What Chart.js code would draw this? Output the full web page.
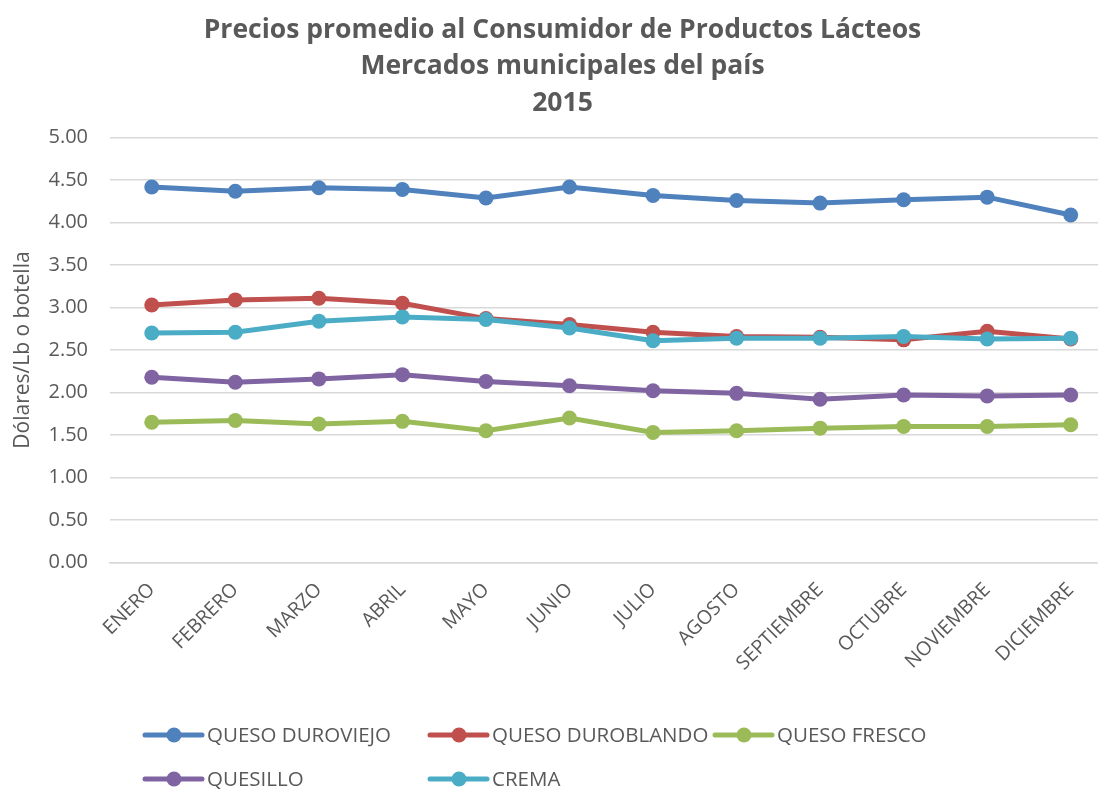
<!DOCTYPE html>
<html>
<head>
<meta charset="utf-8">
<script src="https://cdn.jsdelivr.net/npm/chart.js@4.4.1/dist/chart.umd.min.js"></script>
<style>
  html, body { margin: 0; padding: 0; background: #fff; overflow: hidden; }
  canvas { display: block; }
</style>
</head>
<body>
<canvas id="chart" width="1120" height="791"></canvas>
<script>
// meses
var meses = ["ENERO", "FEBRERO", "MARZO", "ABRIL", "MAYO", "JUNIO",
  "JULIO", "AGOSTO", "SEPTIEMBRE", "OCTUBRE", "NOVIEMBRE", "DICIEMBRE"];

// precios por producto (US$)
var duroviejo  = [4.42, 4.37, 4.41, 4.39, 4.29, 4.42, 4.32, 4.26, 4.23, 4.27, 4.30, 4.09];
var duroblando = [3.03, 3.09, 3.11, 3.05, 2.87, 2.80, 2.71, 2.66, 2.65, 2.62, 2.72, 2.63];
var fresco     = [1.65, 1.67, 1.63, 1.66, 1.55, 1.70, 1.53, 1.55, 1.58, 1.60, 1.60, 1.62];
var quesillo   = [2.18, 2.12, 2.16, 2.21, 2.13, 2.08, 2.02, 1.99, 1.92, 1.97, 1.96, 1.97];
var crema      = [2.70, 2.71, 2.84, 2.89, 2.86, 2.76, 2.61, 2.64, 2.64, 2.66, 2.63, 2.64];

var gris = "#595959";
var fuente = "'Open Sans', 'Liberation Sans', sans-serif";

function serie(label, data, color, orden) {
  return {
    label: label,
    data: data,
    borderColor: color,
    backgroundColor: color,
    borderWidth: 5,
    pointRadius: 7.5,
    pointHoverRadius: 7.5,
    pointBorderWidth: 0,
    tension: 0,
    order: orden
  };
}

// leyenda dibujada a mano (en cuadricula, como la original)
var leyenda = {
  id: "leyenda",
  afterDraw: function(chart) {
    var ctx = chart.ctx;
    var pos = [[145, 735], [430, 735], [715, 735], [145, 779], [430, 779]];
    ctx.save();
    ctx.font = "20.5px " + fuente;
    ctx.textBaseline = "middle";
    chart.data.datasets.forEach(function(ds, k) {
      var x = pos[k][0], y = pos[k][1];
      ctx.strokeStyle = ds.borderColor;
      ctx.lineWidth = 5;
      ctx.lineCap = "round";
      ctx.beginPath();
      ctx.moveTo(x, y);
      ctx.lineTo(x + 57, y);
      ctx.stroke();
      ctx.fillStyle = ds.borderColor;
      ctx.beginPath();
      ctx.arc(x + 29, y, 7.5, 0, Math.PI * 2);
      ctx.fill();
      ctx.fillStyle = gris;
      ctx.fillText(ds.label, x + 62, y + 1);
    });
    ctx.restore();
  }
};

new Chart(document.getElementById("chart"), {
  type: "line",
  data: {
    labels: meses,
    datasets: [
      serie("QUESO DUROVIEJO", duroviejo, "#4F81BD", 4),
      serie("QUESO DUROBLANDO", duroblando, "#C0504D", 3),
      serie("QUESO FRESCO", fresco, "#9BBB59", 2),
      serie("QUESILLO", quesillo, "#8064A2", 1),
      serie("CREMA", crema, "#4BACC6", 0)
    ]
  },
  options: {
    responsive: false,
    animation: false,
    layout: { padding: { left: 6, right: 1, top: 4, bottom: 108 } },
    plugins: {
      legend: { display: false },
      tooltip: { enabled: false },
      title: {
        display: true,
        text: ["Precios promedio al Consumidor de Productos Lácteos",
               "Mercados municipales del país", "2015"],
        color: gris,
        font: { family: fuente, size: 26.5, weight: "bold", lineHeight: 1.38 },
        padding: { top: 8, bottom: 16 }
      }
    },
    scales: {
      x: {
        offset: true,
        grid: { display: false },
        border: { color: "#D9D9D9", width: 1.5 },
        ticks: {
          color: gris,
          font: { family: fuente, size: 19.5 },
          minRotation: 45,
          maxRotation: 45,
          autoSkip: false,
          padding: 8
        }
      },
      y: {
        min: 0,
        max: 5,
        afterFit: function(scale) { scale.width = 104; },
        ticks: {
          stepSize: 0.5,
          color: gris,
          font: { family: fuente, size: 20 },
          padding: 22,
          callback: function(v) { return v.toFixed(2); }
        },
        grid: { color: "#D9D9D9", lineWidth: 1.5, drawTicks: false },
        border: { display: false },
        title: {
          display: true,
          text: "Dólares/Lb o botella",
          color: gris,
          font: { family: fuente, size: 21 },
          padding: { top: 4, bottom: 11 }
        }
      }
    }
  },
  plugins: [leyenda]
});
</script>
</body>
</html>
